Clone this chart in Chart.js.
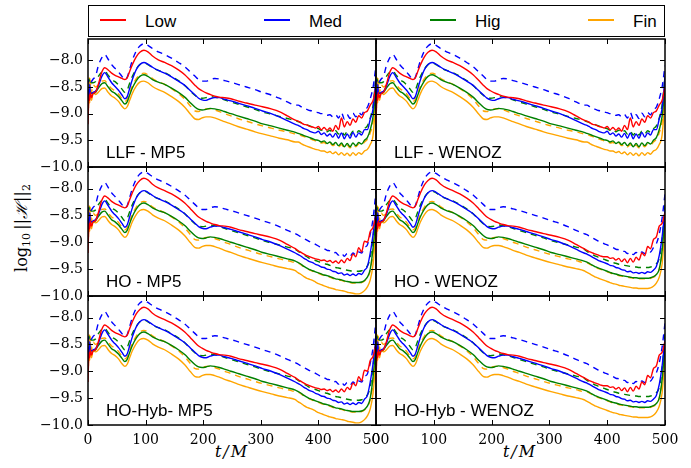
<!DOCTYPE html>
<html>
<head>
<meta charset="utf-8">
<script src="https://cdn.jsdelivr.net/npm/chart.js@4.4.1/dist/chart.umd.min.js"></script>
<style>
  html, body { margin: 0; padding: 0; background: #fff; }
  #page { position: relative; width: 691px; height: 468px; overflow: hidden; background: #fff; }
  #page canvas { position: absolute; }
  .legendBox { position: absolute; left: 88px; top: 5px; width: 577px; height: 32px; border: 1px solid #000; box-sizing: border-box; }
  .legLine { position: absolute; top: 19px; width: 26px; height: 0; border-top: 2px solid; }
  .legText { position: absolute; top: 12px; line-height: 17px; font: 17px "Liberation Sans", Arial, sans-serif; color: #000; }
  .ylab { position: absolute; left: 21px; top: 228px; transform: translate(-50%, -50%) rotate(-90deg);
          white-space: nowrap; font: 16px "DejaVu Serif", serif; color: #000; }
  .ylab sub { font-size: 11px; vertical-align: -3px; line-height: 0; }
  .xlab { position: absolute; top: 442px; transform: translateX(-50%); white-space: nowrap;
          font: italic 16px "DejaVu Serif", serif; letter-spacing: 2px; color: #000; }
</style>
</head>
<body>
<div id="page">
  <div class="legendBox"></div>
  <div class="ylab">log<sub>10</sub>&thinsp;||<i>ℋ</i>||<sub>2</sub></div>
  <div class="xlab" style="left:232px">t/M</div>
  <div class="xlab" style="left:520px">t/M</div>
</div>
<script>
// series names and colours
const seriesNames = ["Low", "Med", "Hig", "Fin"];
const seriesColors = ["#ff0000", "#0000ff", "#008000", "#ffa500"];

const xTicks = [0, 100, 200, 300, 400, 500];
const yTicks = [-10, -9.5, -9, -8.5, -8];

// time samples, shared early part (t <= 360)
const tEarly = [0, 1, 2, 3, 4, 6, 9, 13, 18, 24, 29, 35, 41, 47, 53, 59, 64, 68, 72, 77, 84, 90, 97, 104, 112, 122, 133, 145, 157, 168, 178, 186, 192, 198, 205, 212, 220, 228, 237, 248, 260, 275, 290, 303, 318, 332, 346, 360];

const lowEarly = [-9.2, -8.8, -8.65, -8.75, -8.6, -8.7, -8.62, -8.6, -8.45, -8.22, -8.14, -8.18, -8.24, -8.28, -8.31, -8.34, -8.36, -8.33, -8.22, -8.08, -7.93, -7.85, -7.81, -7.84, -7.92, -7.99, -8.04, -8.1, -8.18, -8.27, -8.38, -8.47, -8.53, -8.57, -8.61, -8.64, -8.67, -8.69, -8.70, -8.72, -8.76, -8.8, -8.84, -8.87, -8.91, -8.96, -9.04, -9.12];
const medEarly = [-8.9, -8.55, -8.7, -8.45, -8.6, -8.62, -8.6, -8.58, -8.48, -8.3, -8.23, -8.32, -8.42, -8.49, -8.56, -8.65, -8.72, -8.68, -8.54, -8.36, -8.17, -8.08, -8.04, -8.07, -8.13, -8.19, -8.24, -8.31, -8.39, -8.47, -8.57, -8.65, -8.71, -8.74, -8.75, -8.72, -8.70, -8.70, -8.73, -8.76, -8.8, -8.85, -8.9, -8.95, -9.0, -9.06, -9.13, -9.2];
const higEarly = [-8.6, -8.75, -8.55, -8.65, -8.6, -8.62, -8.62, -8.6, -8.52, -8.44, -8.42, -8.5, -8.58, -8.62, -8.68, -8.76, -8.82, -8.78, -8.66, -8.52, -8.38, -8.3, -8.27, -8.3, -8.36, -8.41, -8.45, -8.52, -8.6, -8.69, -8.8, -8.88, -8.92, -8.93, -8.92, -8.9, -8.91, -8.93, -8.96, -9.0, -9.04, -9.09, -9.14, -9.19, -9.23, -9.27, -9.31, -9.35];
const finEarly = [-8.5, -8.9, -8.4, -8.8, -8.45, -8.75, -8.6, -8.64, -8.6, -8.53, -8.52, -8.6, -8.67, -8.71, -8.77, -8.86, -8.91, -8.87, -8.76, -8.62, -8.48, -8.41, -8.39, -8.42, -8.49, -8.55, -8.6, -8.68, -8.77, -8.88, -9.01, -9.1, -9.11, -9.08, -9.06, -9.06, -9.08, -9.11, -9.15, -9.19, -9.24, -9.29, -9.34, -9.38, -9.42, -9.46, -9.49, -9.53];
// dashed: rescaled Med / Hig / Fin
const medDashEarly = [-8.35, -8.4, -8.45, -8.42, -8.45, -8.4, -8.35, -8.3, -8.1, -7.95, -7.89, -7.98, -8.08, -8.15, -8.22, -8.3, -8.36, -8.32, -8.18, -8.0, -7.82, -7.73, -7.69, -7.72, -7.78, -7.84, -7.89, -7.96, -8.04, -8.12, -8.22, -8.3, -8.36, -8.39, -8.39, -8.36, -8.34, -8.35, -8.38, -8.41, -8.45, -8.5, -8.55, -8.6, -8.65, -8.71, -8.78, -8.84];
const higDashEarly = [-8.4, -8.5, -8.35, -8.45, -8.4, -8.42, -8.42, -8.4, -8.3, -8.22, -8.2, -8.28, -8.36, -8.4, -8.46, -8.54, -8.6, -8.56, -8.44, -8.3, -8.16, -8.08, -8.05, -8.08, -8.14, -8.19, -8.23, -8.3, -8.38, -8.47, -8.58, -8.66, -8.7, -8.71, -8.7, -8.68, -8.69, -8.71, -8.74, -8.78, -8.82, -8.87, -8.92, -8.97, -9.01, -9.05, -9.09, -9.13];
const finDashEarly = [-8.4, -8.75, -8.3, -8.65, -8.35, -8.6, -8.46, -8.5, -8.46, -8.39, -8.38, -8.46, -8.53, -8.57, -8.63, -8.72, -8.77, -8.73, -8.62, -8.48, -8.34, -8.27, -8.24, -8.27, -8.34, -8.4, -8.45, -8.53, -8.62, -8.73, -8.86, -8.95, -8.96, -8.93, -8.91, -8.91, -8.93, -8.96, -9.0, -9.04, -9.09, -9.14, -9.19, -9.23, -9.27, -9.31, -9.34, -9.38];

// late times, noisy part
const tTail = [365, 370, 375, 380, 385, 390, 395, 400, 405, 410, 415, 420, 425, 430, 435, 440, 445, 450, 455, 460, 465, 470, 475, 480, 485, 490, 495, 500];

// LLF runs
const llfLowTail = [-9.14, -9.17, -9.2, -9.21, -9.24, -9.25, -9.27, -9.24, -9.3, -9.26, -9.31, -9.27, -9.33, -9.22, -9.3, -9.08, -9.25, -9.15, -9.22, -9.1, -9.16, -9.04, -9.08, -8.98, -8.95, -8.84, -8.75, -8.5];
const llfMedTail = [-9.22, -9.25, -9.28, -9.3, -9.33, -9.35, -9.36, -9.33, -9.39, -9.36, -9.42, -9.38, -9.44, -9.37, -9.46, -9.36, -9.47, -9.38, -9.46, -9.35, -9.44, -9.36, -9.4, -9.3, -9.3, -9.1, -8.9, -8.3];
const llfHigTail = [-9.37, -9.39, -9.41, -9.43, -9.45, -9.47, -9.49, -9.5, -9.53, -9.51, -9.56, -9.53, -9.58, -9.54, -9.6, -9.55, -9.62, -9.56, -9.62, -9.55, -9.6, -9.54, -9.57, -9.5, -9.45, -9.3, -9.05, -8.5];
const llfFinTail = [-9.53, -9.56, -9.59, -9.61, -9.63, -9.65, -9.67, -9.68, -9.7, -9.7, -9.73, -9.71, -9.75, -9.72, -9.77, -9.73, -9.78, -9.74, -9.79, -9.73, -9.78, -9.73, -9.76, -9.7, -9.67, -9.58, -9.4, -8.7];
const llfMedDashTail = [-8.84, -8.87, -8.9, -8.92, -8.94, -8.95, -8.97, -8.98, -9.0, -9.0, -9.03, -9.02, -9.06, -9.02, -9.08, -8.98, -9.1, -9.02, -9.09, -8.99, -9.06, -8.98, -9.02, -8.92, -8.88, -8.72, -8.5, -8.1];
const llfHigDashTail = [-9.15, -9.17, -9.19, -9.21, -9.23, -9.25, -9.27, -9.28, -9.31, -9.29, -9.34, -9.31, -9.36, -9.32, -9.38, -9.33, -9.4, -9.34, -9.4, -9.33, -9.38, -9.32, -9.35, -9.28, -9.23, -9.08, -8.83, -8.3];
const llfFinDashTail = [-9.39, -9.41, -9.43, -9.45, -9.47, -9.49, -9.51, -9.52, -9.55, -9.54, -9.58, -9.55, -9.6, -9.57, -9.62, -9.58, -9.64, -9.59, -9.64, -9.58, -9.62, -9.57, -9.59, -9.53, -9.48, -9.36, -9.15, -8.6];

// HO runs, MP5
const hoLowTail = [-9.16, -9.19, -9.22, -9.25, -9.27, -9.29, -9.31, -9.32, -9.34, -9.33, -9.36, -9.34, -9.38, -9.35, -9.39, -9.33, -9.38, -9.3, -9.34, -9.22, -9.27, -9.1, -9.18, -8.98, -9.0, -8.8, -8.72, -8.5];
const hoMedTail = [-9.23, -9.26, -9.3, -9.33, -9.36, -9.38, -9.41, -9.43, -9.46, -9.47, -9.5, -9.51, -9.54, -9.55, -9.58, -9.57, -9.61, -9.59, -9.62, -9.59, -9.62, -9.58, -9.6, -9.52, -9.45, -9.2, -8.85, -8.35];
const hoHigTail = [-9.38, -9.41, -9.45, -9.48, -9.51, -9.53, -9.55, -9.57, -9.59, -9.61, -9.62, -9.64, -9.66, -9.68, -9.69, -9.7, -9.72, -9.73, -9.74, -9.75, -9.75, -9.75, -9.74, -9.71, -9.65, -9.5, -9.1, -8.5];
const hoFinTail = [-9.57, -9.6, -9.64, -9.67, -9.69, -9.71, -9.74, -9.77, -9.79, -9.81, -9.83, -9.85, -9.86, -9.88, -9.89, -9.9, -9.91, -9.93, -9.94, -9.95, -9.96, -9.96, -9.94, -9.9, -9.83, -9.7, -9.4, -8.7];
const hoMedDashTail = [-8.87, -8.9, -8.93, -8.96, -8.99, -9.01, -9.04, -9.07, -9.1, -9.12, -9.15, -9.16, -9.2, -9.19, -9.24, -9.2, -9.26, -9.21, -9.26, -9.2, -9.24, -9.18, -9.2, -9.1, -9.05, -8.85, -8.55, -8.05];
const hoHigDashTail = [-9.17, -9.2, -9.24, -9.27, -9.3, -9.32, -9.34, -9.36, -9.38, -9.4, -9.41, -9.43, -9.45, -9.47, -9.48, -9.49, -9.51, -9.52, -9.53, -9.54, -9.54, -9.54, -9.53, -9.5, -9.44, -9.29, -8.89, -8.3];
const hoFinDashTail = [-9.39, -9.42, -9.46, -9.49, -9.52, -9.54, -9.56, -9.58, -9.6, -9.62, -9.63, -9.65, -9.67, -9.69, -9.7, -9.71, -9.73, -9.74, -9.75, -9.76, -9.76, -9.76, -9.75, -9.72, -9.66, -9.53, -9.2, -8.6];

// HO runs, WENOZ
const hoWenoLowTail = [-9.15, -9.18, -9.2, -9.22, -9.24, -9.26, -9.27, -9.27, -9.3, -9.29, -9.33, -9.3, -9.36, -9.31, -9.38, -9.3, -9.37, -9.28, -9.33, -9.2, -9.25, -9.08, -9.12, -8.95, -8.9, -8.7, -8.65, -8.45];
const hoWenoMedTail = [-9.22, -9.25, -9.28, -9.31, -9.34, -9.36, -9.38, -9.4, -9.43, -9.44, -9.47, -9.48, -9.51, -9.52, -9.55, -9.54, -9.57, -9.56, -9.58, -9.56, -9.58, -9.55, -9.56, -9.52, -9.45, -9.25, -8.9, -8.4];
const hoWenoHigTail = [-9.37, -9.4, -9.43, -9.46, -9.48, -9.5, -9.52, -9.54, -9.56, -9.58, -9.59, -9.61, -9.62, -9.63, -9.64, -9.65, -9.66, -9.66, -9.67, -9.67, -9.67, -9.67, -9.66, -9.64, -9.6, -9.5, -9.15, -8.5];
const hoWenoFinTail = [-9.56, -9.59, -9.62, -9.65, -9.67, -9.69, -9.71, -9.73, -9.75, -9.77, -9.78, -9.8, -9.81, -9.82, -9.83, -9.84, -9.85, -9.85, -9.86, -9.86, -9.86, -9.86, -9.85, -9.82, -9.76, -9.65, -9.4, -8.7];
const hoWenoMedDashTail = [-8.86, -8.89, -8.92, -8.95, -8.98, -9.0, -9.03, -9.05, -9.08, -9.1, -9.13, -9.14, -9.17, -9.17, -9.21, -9.18, -9.23, -9.19, -9.23, -9.18, -9.21, -9.16, -9.18, -9.1, -9.03, -8.85, -8.55, -8.1];
const hoWenoHigDashTail = [-9.17, -9.2, -9.23, -9.26, -9.28, -9.3, -9.32, -9.34, -9.36, -9.38, -9.39, -9.41, -9.42, -9.43, -9.44, -9.45, -9.46, -9.46, -9.47, -9.47, -9.47, -9.47, -9.46, -9.44, -9.4, -9.3, -8.95, -8.3];
const hoWenoFinDashTail = [-9.38, -9.41, -9.44, -9.47, -9.49, -9.51, -9.53, -9.55, -9.57, -9.59, -9.6, -9.62, -9.63, -9.64, -9.65, -9.66, -9.67, -9.67, -9.68, -9.68, -9.68, -9.68, -9.67, -9.65, -9.61, -9.5, -9.2, -8.6];

const llfTails = [llfLowTail, llfMedTail, llfHigTail, llfFinTail, llfMedDashTail, llfHigDashTail, llfFinDashTail];
const hoTails = [hoLowTail, hoMedTail, hoHigTail, hoFinTail, hoMedDashTail, hoHigDashTail, hoFinDashTail];
const hoWenoTails = [hoWenoLowTail, hoWenoMedTail, hoWenoHigTail, hoWenoFinTail, hoWenoMedDashTail, hoWenoHigDashTail, hoWenoFinDashTail];
const earlyParts = [lowEarly, medEarly, higEarly, finEarly, medDashEarly, higDashEarly, finDashEarly];

const panels = [
  { label: "LLF - MP5", row: 0, col: 0, tails: llfTails },
  { label: "LLF - WENOZ", row: 0, col: 1, tails: llfTails },
  { label: "HO - MP5", row: 1, col: 0, tails: hoTails },
  { label: "HO - WENOZ", row: 1, col: 1, tails: hoWenoTails },
  { label: "HO-Hyb- MP5", row: 2, col: 0, tails: hoTails },
  { label: "HO-Hyb - WENOZ", row: 2, col: 1, tails: hoWenoTails }
];

// layout in page pixels
const colLeft = [88, 376];
const colWidth = [288, 289];
const rowTop = [39, 167, 296];
const rowHeight = [128, 129, 129];
const PAD_L = 70, PAD_T = 12, PAD_R = 22, PAD_B = 45;

const page = document.getElementById("page");

// legend
const legLineX = [100, 264, 430, 588];
const legTextX = [145, 309, 475, 633];
seriesNames.forEach((name, i) => {
  const l = document.createElement("div");
  l.className = "legLine";
  l.style.left = legLineX[i] + "px";
  l.style.borderColor = seriesColors[i];
  page.appendChild(l);
  const t = document.createElement("div");
  t.className = "legText";
  t.style.left = legTextX[i] + "px";
  t.textContent = name;
  page.appendChild(t);
});

const minus = v => (v < 0 ? "\u2212" : "") + Math.abs(v).toFixed(1);

// inward ticks on all sides, frame, panel label
const frameTicks = {
  id: "frameTicks",
  afterDatasetsDraw(chart, args, opts) {
    const { ctx, chartArea: a, scales: { x, y } } = chart;
    ctx.save();
    ctx.strokeStyle = "#000";
    ctx.lineWidth = 1;
    ctx.beginPath();
    x.ticks.forEach(t => {
      const px = Math.round(x.getPixelForValue(t.value)) + 0.5;
      ctx.moveTo(px, a.bottom); ctx.lineTo(px, a.bottom - 5);
      ctx.moveTo(px, a.top); ctx.lineTo(px, a.top + 5);
    });
    y.ticks.forEach(t => {
      const py = Math.round(y.getPixelForValue(t.value)) + 0.5;
      ctx.moveTo(a.left, py); ctx.lineTo(a.left + 5, py);
      ctx.moveTo(a.right, py); ctx.lineTo(a.right - 5, py);
    });
    ctx.stroke();
    ctx.lineWidth = 1.5;
    ctx.strokeRect(a.left, a.top, a.right - a.left, a.bottom - a.top);
    ctx.fillStyle = "#000";
    ctx.font = '17px "Liberation Sans", Arial, sans-serif';
    ctx.textBaseline = "alphabetic";
    ctx.fillText(opts.text, a.left + 18, a.bottom - 9);
    ctx.restore();
  }
};

panels.forEach(p => {
  const w = colWidth[p.col], h = rowHeight[p.row];
  const cv = document.createElement("canvas");
  cv.width = w + PAD_L + PAD_R;
  cv.height = h + PAD_T + PAD_B;
  cv.style.left = (colLeft[p.col] - PAD_L) + "px";
  cv.style.top = (rowTop[p.row] - PAD_T) + "px";
  page.appendChild(cv);

  const datasets = earlyParts.map((early, k) => {
    const tail = p.tails[k];
    const pts = tEarly.map((t, i) => ({ x: t, y: early[i] }))
      .concat(tTail.map((t, i) => ({ x: t, y: tail[i] })));
    const c = seriesColors[k < 4 ? k : k - 3];
    return {
      label: k < 4 ? seriesNames[k] : seriesNames[k - 3] + " (scaled)",
      data: pts,
      borderColor: c,
      borderWidth: 1.4,
      borderDash: k < 4 ? [] : [6, 5],
      pointRadius: 0,
      cubicInterpolationMode: "monotone",
      fill: false
    };
  });

  new Chart(cv, {
    type: "line",
    data: { datasets },
    options: {
      responsive: false,
      animation: false,
      events: [],
      layout: { padding: { left: 0, top: PAD_T, right: PAD_R, bottom: 0 } },
      plugins: {
        legend: { display: false },
        tooltip: { enabled: false },
        frameTicks: { text: p.label }
      },
      scales: {
        x: {
          type: "linear",
          min: 0, max: 500,
          grid: { display: false, drawTicks: false },
          border: { display: false },
          afterBuildTicks: s => { s.ticks = xTicks.map(v => ({ value: v })); },
          afterFit: s => { s.height = PAD_B; s.paddingLeft = 0; s.paddingRight = 0; },
          ticks: {
            display: p.row === 2,
            padding: 7,
            maxRotation: 0,
            color: "#000",
            font: { family: "DejaVu Serif", size: 14 },
            callback: v => String(v)
          }
        },
        y: {
          type: "linear",
          min: -10, max: -7.6,
          grid: { display: false, drawTicks: false },
          border: { display: false },
          afterBuildTicks: s => { s.ticks = yTicks.map(v => ({ value: v })); },
          afterFit: s => { s.width = PAD_L; s.paddingTop = 0; s.paddingBottom = 0; },
          ticks: {
            display: p.col === 0,
            padding: 5,
            color: "#000",
            font: { family: "DejaVu Serif", size: 14 },
            callback: v => minus(v)
          }
        }
      }
    },
    plugins: [frameTicks]
  });
});
</script>
</body>
</html>
